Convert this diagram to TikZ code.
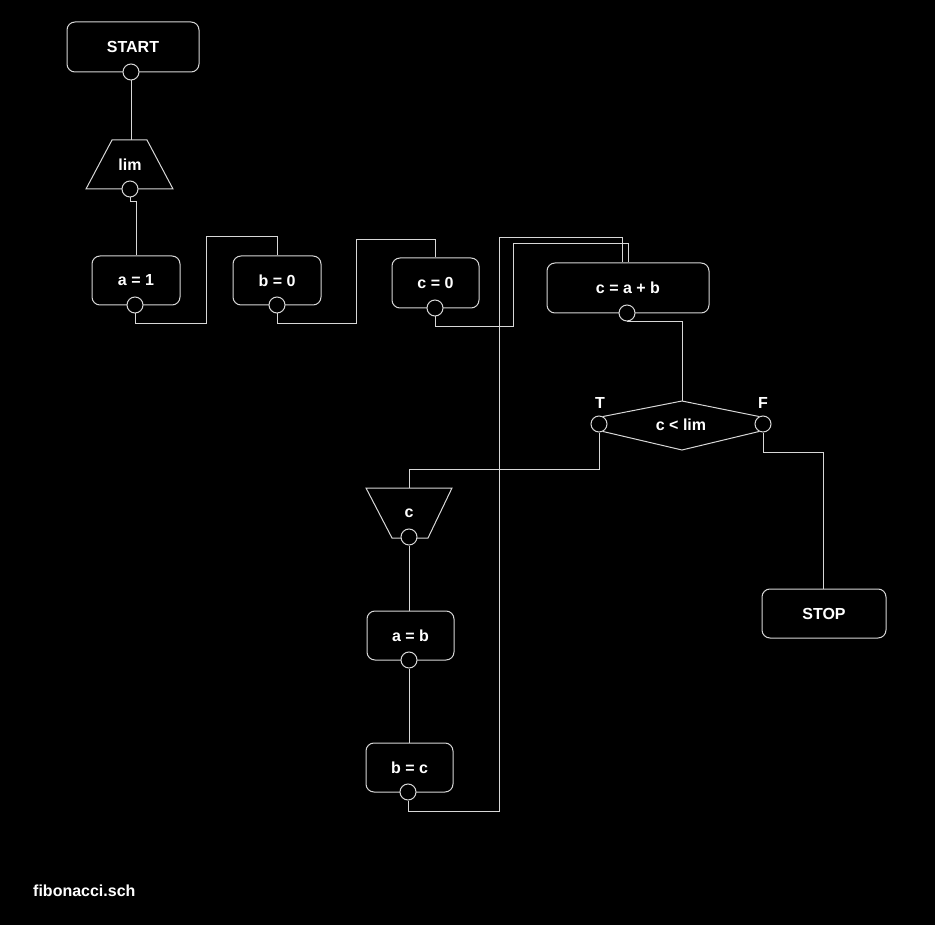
\documentclass[tikz,border=0pt]{standalone}
\usepackage{fontspec}
\setmainfont{Liberation Sans}
\newcommand\dfont{\fontsize{16}{18}\selectfont\bfseries}
\definecolor{lc}{RGB}{215,215,215}
\begin{document}
\begin{tikzpicture}[x=1pt,y=-1pt,
  wire/.style={draw=lc, line width=1pt},
  box/.style={draw=lc, line width=1pt, rounded corners=8pt, fill=black, text=white, font=\dfont, inner sep=0pt},
  port/.style={circle, draw=lc, fill=black, line width=1pt, minimum size=16pt, inner sep=0pt},
  lbl/.style={text=white, font=\dfont, inner sep=0pt}]
\fill[black] (0,0) rectangle (935,925);
\useasboundingbox (0,0) rectangle (935,925);

% START
\node[box,minimum width=132pt,minimum height=50pt] (start) at (133,47) {START};
\node[port] (p0) at (131,72) {};

% lim input
\coordinate (limtop) at (130,140);
\draw[wire, fill=black] (112,140) -- (147,140) -- (173,189) -- (86,189) -- cycle;
\node[lbl] (lim) at (130,165) {lim};
\node[port] (p1) at (130,189) {};

% assignments
\node[box,minimum width=88pt,minimum height=49pt] (a1) at (136,280.5) {a = 1};
\node[port] (p2) at (135,305) {};
\node[box,minimum width=88pt,minimum height=49pt] (b0) at (277,280.5) {b = 0};
\node[port] (p3) at (277,305) {};
\node[box,minimum width=87pt,minimum height=50pt] (c0) at (435.5,283) {c = 0};
\node[port] (p4) at (435,308) {};
\node[box,minimum width=162pt,minimum height=50pt] (cab) at (628,288) {c = a + b};
\node[port] (p5) at (627,313) {};

% decision
\coordinate (dtop) at (682,401);
\coordinate (dbot) at (682,450);
\node[port] (pt) at (599,424) {};
\node[port] (pf) at (763,424) {};
\draw[wire] (pt.62) -- (dtop) -- (pf.118);
\draw[wire] (pt.-62) -- (dbot) -- (pf.-118);
\node[lbl] (cond) at (681,425) {c < lim};
\node[lbl] (tl) at (600,403) {T};
\node[lbl] (fl) at (763,403) {F};

% output c
\coordinate (ctop) at (409,488);
\draw[wire, fill=black] (366,488) -- (452,488) -- (428,538) -- (392,538) -- cycle;
\node[lbl] (cout) at (409,513) {c};
\node[port] (p6) at (409,537) {};

\node[box,minimum width=87pt,minimum height=49pt] (ab) at (410.5,635.5) {a = b};
\node[port] (p7) at (409,660) {};
\node[box,minimum width=87pt,minimum height=49pt] (bc) at (409.5,767.5) {b = c};
\node[port] (p8) at (408,792) {};

\node[box,minimum width=124pt,minimum height=49pt] (stop) at (824,613.5) {STOP};

\node[lbl, anchor=west] (file) at (33,891) {fibonacci.sch};

% wires
\draw[wire] (p0.south) -- (p0.south |- limtop);
\draw[wire] (p1.south) -- ++(0,4) -| (a1.north);
\draw[wire] (p2.south) |- (206,324) |- (b0.north |- 0,237) -- (b0.north);
\draw[wire] (p3.south) |- (356,324) |- (c0.north |- 0,240) -- (c0.north);
\draw[wire] (p4.south) |- (513,327) |- (cab.north |- 0,244) -- (cab.north);
\draw[wire] (p8.south) |- (499,811) |- (622,238) -- (cab.north -| 622,0);
\draw[wire] (p5.south) -| (dtop);
\draw[wire] (pt.south) |- (ctop |- 0,469) -- (ctop);
\draw[wire] (pf.south) |- (823,452) -- (stop.north -| 823,0);
\draw[wire] (p6.south) -- (p6.south |- ab.north);
\draw[wire] (p7.south) -- (p7.south |- bc.north);
\end{tikzpicture}
\end{document}
